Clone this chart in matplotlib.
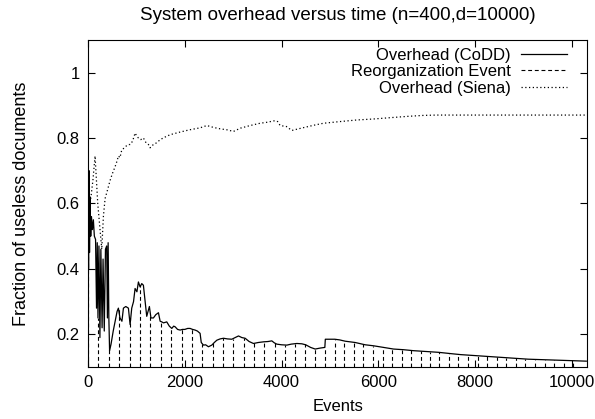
import numpy as np
import matplotlib
matplotlib.use("Agg")
import matplotlib.pyplot as plt

plt.rcParams["font.family"] = ["Liberation Sans", "DejaVu Sans"]

# overhead of CoDD (events, fraction)
codd_x = [0, 10, 20, 30, 40, 55, 70, 90, 110, 130, 155, 175, 190, 205, 225, 245, 265, 290, 310,
          335, 360, 385, 400, 415, 430, 445, 475, 520, 560, 600, 627, 660, 700, 731, 780, 834,
          869, 903, 940, 972, 1010, 1041, 1075, 1110, 1144, 1180, 1213, 1240, 1268, 1300, 1351,
          1400, 1455, 1490, 1524, 1560, 1627, 1680, 1731, 1770, 1800, 1850, 1903, 1950, 2000,
          2060, 2110, 2160, 2213, 2260, 2316, 2340, 2386, 2430, 2489, 2558, 2610, 2662, 2730,
          2800, 2880, 2972, 3040, 3110, 3180, 3247, 3330, 3419, 3520, 3626, 3720, 3799, 3850,
          3902, 4000, 4109, 4200, 4316, 4420, 4500, 4600, 4695, 4800, 4895, 4905, 5100, 5200,
          5315, 5522, 5729, 5900, 6108, 6315, 6521, 6728, 6935, 7245, 7500, 7700, 8100, 8500,
          8800, 9100, 9500, 9900, 10300]
codd_y = [0.70, 0.40, 0.70, 0.45, 0.62, 0.50, 0.56, 0.52, 0.55, 0.50, 0.49, 0.28, 0.48, 0.25,
          0.47, 0.19, 0.46, 0.22, 0.43, 0.21, 0.46, 0.47, 0.25, 0.48, 0.25, 0.15, 0.17, 0.21,
          0.24, 0.27, 0.28, 0.25, 0.24, 0.28, 0.285, 0.28, 0.23, 0.28, 0.30, 0.34, 0.33, 0.36,
          0.345, 0.355, 0.35, 0.30, 0.255, 0.27, 0.285, 0.25, 0.25, 0.26, 0.266, 0.24, 0.238,
          0.235, 0.238, 0.225, 0.218, 0.225, 0.223, 0.215, 0.213, 0.215, 0.215, 0.218, 0.218,
          0.215, 0.213, 0.21, 0.203, 0.175, 0.167, 0.168, 0.162, 0.167, 0.175, 0.182, 0.186,
          0.188, 0.186, 0.185, 0.19, 0.195, 0.19, 0.188, 0.178, 0.172, 0.175, 0.177, 0.178,
          0.18, 0.174, 0.17, 0.168, 0.167, 0.17, 0.172, 0.171, 0.168, 0.16, 0.155, 0.158, 0.16,
          0.185, 0.185, 0.183, 0.179, 0.175, 0.168, 0.165, 0.16, 0.155, 0.153, 0.15, 0.148,
          0.145, 0.141, 0.138, 0.134, 0.13, 0.127, 0.124, 0.122, 0.12, 0.118]

# reorganization events (event number, overhead at that moment)
reorg_x = [0, 213, 434, 648, 862, 1075, 1282, 1503, 1717, 1938, 2151, 2365, 2580, 2792, 3006,
           3221, 3433, 3647, 3862, 4075, 4288, 4488, 4695, 4902, 5109, 5300, 5502, 5694, 5888,
           6095, 6287, 6488, 6680, 6881, 7073, 7260, 7458, 7656, 7854, 8052, 8250, 8448, 8646,
           8844, 9042, 9240, 9438, 9636, 9834, 10032]
reorg_y = [0.70, 0.25, 0.16, 0.28, 0.25, 0.35, 0.26, 0.24, 0.22, 0.215, 0.218, 0.17, 0.172,
           0.188, 0.187, 0.19, 0.172, 0.177, 0.173, 0.168, 0.171, 0.169, 0.155, 0.16, 0.184,
           0.179, 0.175, 0.169, 0.165, 0.16, 0.156, 0.153, 0.151, 0.149, 0.147, 0.145, 0.142,
           0.139, 0.137, 0.135, 0.133, 0.131, 0.129, 0.127, 0.125, 0.123, 0.122, 0.121, 0.12,
           0.119]

# overhead of Siena
siena_x = [20, 60, 100, 145, 200, 283, 317, 352, 400, 455, 500, 558, 600, 627, 660, 696, 750,
           800, 835, 869, 920, 972, 1010, 1041, 1090, 1144, 1200, 1248, 1282, 1350, 1386, 1450,
           1550, 1696, 1900, 2100, 2316, 2455, 2600, 2730, 2870, 3006, 3150, 3350, 3557, 3700,
           3868, 3920, 3971, 4100, 4213, 4350, 4523, 4700, 4867, 5200, 5557, 5900, 6246, 6600,
           6935, 7200, 10300]
siena_y = [0.58, 0.62, 0.67, 0.745, 0.60, 0.46, 0.56, 0.615, 0.64, 0.67, 0.69, 0.712, 0.73,
           0.745, 0.74, 0.763, 0.77, 0.777, 0.78, 0.78, 0.79, 0.815, 0.805, 0.80, 0.795, 0.80,
           0.785, 0.78, 0.77, 0.78, 0.782, 0.79, 0.80, 0.81, 0.818, 0.825, 0.831, 0.838, 0.832,
           0.828, 0.825, 0.82, 0.83, 0.838, 0.845, 0.848, 0.853, 0.85, 0.838, 0.835, 0.823,
           0.828, 0.834, 0.84, 0.845, 0.85, 0.855, 0.858, 0.862, 0.866, 0.869, 0.87, 0.87]

fig = plt.figure(figsize=(5.95, 4.19), dpi=100)
ax = fig.add_axes([0.148, 0.124, 0.839, 0.781])

dash = (0, (3.5, 2.5))
ax.plot(codd_x, codd_y, color="black", lw=0.9, label="Overhead (CoDD)")
ax.vlines(reorg_x, 0.1, reorg_y, colors="black", lw=0.8, linestyles=[dash])
ax.plot([], [], color="black", lw=0.8, linestyle=dash, label="Reorganization Event")
ax.plot(siena_x, siena_y, color="black", lw=0.9, linestyle=(0, (1, 2)), label="Overhead (Siena)")

ax.set_xlim(0, 10320)
ax.set_ylim(0.1, 1.1)
ax.set_xticks([0, 2000, 4000, 6000, 8000, 10000])
ax.set_yticks([0.2, 0.4, 0.6, 0.8, 1.0])
ax.set_yticklabels(["0.2", "0.4", "0.6", "0.8", "1"])
ax.tick_params(direction="in", top=True, right=True, length=5, width=0.8, labelsize=12, pad=6)
for s in ax.spines.values():
    s.set_linewidth(0.8)

ax.set_xlabel("Events", fontsize=12, labelpad=6)
ax.set_ylabel("Fraction of useless documents", fontsize=13, labelpad=19)
ax.set_title("System overhead versus time (n=400,d=10000)", fontsize=13.5, pad=14)

ax.legend(loc="upper right", bbox_to_anchor=(0.96, 0.975), frameon=False, markerfirst=False,
          fontsize=12, handlelength=2.8, handletextpad=0.6, labelspacing=0.08,
          borderaxespad=0, borderpad=0)

fig.savefig("out.png", dpi=100)
